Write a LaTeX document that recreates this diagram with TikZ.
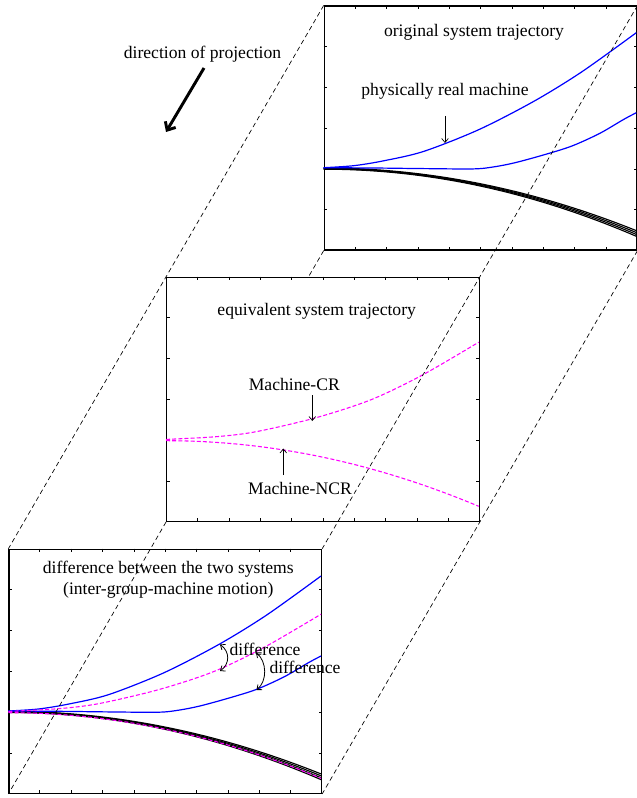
\documentclass[tikz,border=0pt]{standalone}
\usepackage{fontspec}
\setmainfont{Liberation Serif}
\usetikzlibrary{positioning}
\usetikzlibrary{calc}
\usetikzlibrary{arrows.meta}

\definecolor{mag}{RGB}{255,0,255}
\definecolor{realblue}{RGB}{0,0,255}

\tikzset{
  panel/.style={draw, line width=0.9pt, minimum width=234.45pt, minimum height=183pt, inner sep=0pt},
  proj/.style={line width=0.5pt, dash pattern=on 3.5pt off 2.5pt},
  real/.style={realblue, line width=0.9pt},
  band/.style={black, line width=0.85pt},
  equiv/.style={mag, line width=0.8pt, dash pattern=on 3pt off 1.6pt},
  lbl/.style={font=\fontsize{13.2}{15.75}\selectfont, inner sep=1pt},
  lblarrow/.style={line width=0.5pt, -{Straight Barb[length=3pt,width=5pt]}},
  diffarrow/.style={line width=0.6pt, {Straight Barb[length=3pt,width=5pt]}-{Straight Barb[length=3pt,width=5pt]}}
}

\begin{document}
\begin{tikzpicture}[x=0.75pt, y=-0.75pt]
    \useasboundingbox (0,0) rectangle (636,798);
    % the three planes
    \node[panel] (orig) at (480.6,128) {};
    \node[panel] (equiv) at (323,399.3) {};
    \node[panel] (diff) at (165.3,671.3) {};

    % ticks on every side
    \foreach \p in {orig,equiv,diff}{
        \foreach \i in {1,...,9}{
            \draw[line width=0.5pt] ($(\p.south west)!{\i/10}!(\p.south east)$) -- ++(0,-3.5);
            \draw[line width=0.5pt] ($(\p.north west)!{\i/10}!(\p.north east)$) -- ++(0,3.5);
        }
        \foreach \j in {1,...,5}{
            \draw[line width=0.5pt] ($(\p.north west)!{\j/6}!(\p.south west)$) -- ++(3.5,0);
            \draw[line width=0.5pt] ($(\p.north east)!{\j/6}!(\p.south east)$) -- ++(-3.5,0);
        }
    }

    % real machines
    \foreach \p in {orig,diff}{
        \begin{scope}[shift={(\p.north west)}]
            \foreach \k in {0,...,3}
                \draw[band] plot[domain=0:312.6, samples=50] (\x,{162.6+0.4*\k+(6.05+0.15*\k)*0.0001*\x*\x});
            \draw[real] plot[smooth] coordinates {(0,162.3) (30,160.3) (60,155.4) (100,146) (155,124.3) (210,96) (258,66.5) (312.6,27.3)};
            \draw[real] plot[smooth] coordinates {(0,162.3) (50,162.6) (100,163.2) (150,163.5) (170,161.5) (191,157.4) (220,149.5) (248,140.7) (276,128) (300,114) (312.6,107.3)};
        \end{scope}
    }

    % equivalent machines
    \foreach \p in {equiv,diff}{
        \begin{scope}[shift={(\p.north west)}]
            \draw[equiv] plot[smooth] coordinates {(0,162.7) (50,160) (90,155) (150,141) (205,123) (256,98.5) (312.6,65.5)};
            \draw[equiv] plot[domain=0:312.6, samples=50] (\x,{164+6.3*0.0001*\x*\x});
        \end{scope}
    }

    % edges of the projection
    \coordinate (hid) at (intersection of orig.south west--equiv.south west and equiv.north west--equiv.north east);
    \draw[proj] (orig.north west) -- (equiv.north west) -- (diff.north west);
    \draw[proj] (orig.north east) -- (equiv.north east) -- (diff.north east);
    \draw[proj] (orig.south east) -- (equiv.south east) -- (diff.south east);
    \draw[proj] (orig.south west) -- (hid);
    \draw[proj] (equiv.south west) -- (diff.south west);

    % direction of projection
    \node[lbl] (dir) at (202.5,54.5) {direction of projection};
    \coordinate (pstart) at (204,68);
    \coordinate (pend) at (166,132);
    \draw[line width=2.2pt, -{Straight Barb[length=5pt,width=9pt]}] (pstart) -- (pend);

    % labels
    \node[lbl] (origttl) at (474,32.3) {original system trajectory};
    \node[lbl] (equivttl) at (316.7,311.7) {equivalent system trajectory};
    \node[lbl, align=center] (diffttl) at (168.3,579.5) {difference between the two systems\\(inter-group-machine motion)};

    \coordinate (realtop) at (445,116);
    \coordinate (realpt) at (445,143);
    \node[lbl, above=11pt of realtop] (phys) {physically real machine};
    \draw[lblarrow] (realtop) -- (realpt);

    \coordinate (crtop) at (312.3,395);
    \coordinate (crpt) at (312.3,421);
    \node[lbl, above=2pt of crtop, xshift=-13.5pt] (cr) {Machine-CR};
    \draw[lblarrow] (crtop) -- (crpt);

    \coordinate (ncrbot) at (283.3,475);
    \coordinate (ncrpt) at (283.3,448.5);
    \node[lbl, below=4pt of ncrbot, xshift=12.5pt] (ncr) {Machine-NCR};
    \draw[lblarrow] (ncrbot) -- (ncrpt);

    % differences
    \coordinate (d1a) at (220,644.5);
    \coordinate (d1b) at (220,671);
    \coordinate (d2a) at (256,652.5);
    \coordinate (d2b) at (256.5,690);
    \draw[diffarrow] (d1a) .. controls ($(d1a)+(10,7)$) and ($(d1b)+(10,-7)$) .. (d1b);
    \draw[diffarrow] (d2a) .. controls ($(d2a)+(11,9)$) and ($(d2b)+(11,-9)$) .. (d2b);
    \node[lbl] (diff1) at (265,649.3) {difference};
    \node[lbl] (diff2) at (305,667.5) {difference};
\end{tikzpicture}
\end{document}
